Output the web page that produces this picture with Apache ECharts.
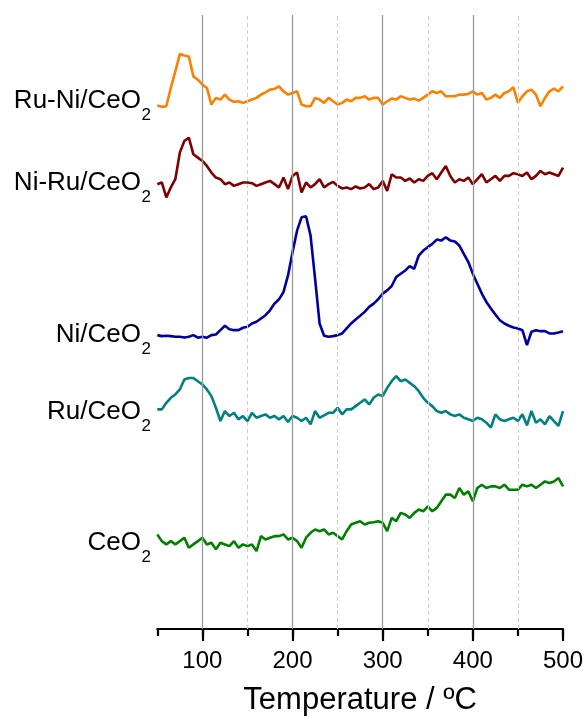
<!DOCTYPE html>
<html>
<head>
<meta charset="utf-8">
<script src="https://cdn.jsdelivr.net/npm/echarts@6/dist/echarts.min.js"></script>
<style>
  html, body { margin: 0; padding: 0; background: #fff; }
  #chart { width: 587px; height: 721px; }
</style>
</head>
<body>
<div id="chart"></div>
<script>
// temperature (ºC)
const temps = [50, 55, 60, 65, 70, 75, 80, 85, 90, 95, 100, 105, 110, 115, 120, 125, 130, 135, 140, 145,
  150, 155, 160, 165, 170, 175, 180, 185, 190, 195, 200, 205, 210, 215, 220, 225, 230, 235, 240, 245,
  250, 255, 260, 265, 270, 275, 280, 285, 290, 295, 300, 305, 310, 315, 320, 325, 330, 335, 340, 345,
  350, 355, 360, 365, 370, 375, 380, 385, 390, 395, 400, 405, 410, 415, 420, 425, 430, 435, 440, 445,
  450, 455, 460, 465, 470, 475, 480, 485, 490, 495, 500]

// signal (a.u., curves already offset)
const ruNi = [526, 524.7, 525.3, 543.7, 560.3, 577.7, 576.3, 575.3, 555.3, 552, 547, 543.7, 527, 533.7, 532, 537, 532, 529.7, 530.3, 528.7,
  530.3, 532, 533.7, 537, 539.3, 542, 542.7, 545.3, 540.3, 537, 538.7, 540.3, 527, 525.3, 525.3, 533.7, 532, 528.7, 533.7, 530.3,
  527, 528.7, 532, 530.3, 533.7, 533.7, 535.3, 532, 533.7, 533.7, 527, 530.3, 533, 532, 535.3, 533.7, 532, 533, 531, 533.7,
  537, 540.3, 538.7, 540.3, 535.3, 535.3, 535.3, 537, 537, 537.7, 540.3, 537, 538.7, 532, 533.7, 537, 533.7, 538.7, 540.3, 544.3,
  528.7, 535.3, 540.3, 542, 537, 525.3, 533.7, 540.3, 543, 540.3, 545.3]

const niRu = [447, 448.7, 433.7, 443.7, 452, 478.7, 490.3, 493.7, 477, 473.7, 470.3, 465.3, 458.7, 453.7, 452, 447, 448.7, 445.3, 447, 448.7,
  448.7, 448, 445.3, 447, 448.7, 450.3, 447, 443.7, 453.7, 442, 455.3, 458.7, 438.7, 448.7, 443.7, 447, 452, 443.7, 447, 449.3,
  445.3, 442.7, 443.7, 442, 444.7, 442.7, 443.7, 447, 442, 443.7, 450.3, 440.3, 457, 453.7, 453.7, 450.3, 452.7, 448.7, 452, 450.3,
  455.3, 458, 452, 458.7, 465.3, 455.3, 448.7, 452, 450.3, 453.7, 447, 452, 457, 448.7, 452, 455.3, 450.3, 455.3, 455.3, 458,
  457, 455.3, 458.7, 452, 455.3, 460.3, 457, 458.7, 457, 455.3, 463.7]

const ni = [295.3, 294.3, 294.7, 294.3, 293.7, 293.7, 293, 293.7, 295.3, 292.7, 293.7, 292.7, 295.3, 296, 300.3, 304.7, 301.3, 300.3, 300.3, 302.7,
  303.7, 307, 308.7, 312, 315.3, 320.3, 327, 331.3, 338.7, 355.3, 378.7, 400.3, 413.7, 414.7, 395.3, 352, 307, 294.7, 293.7, 294.3,
  295.3, 297, 302, 307, 311, 314.7, 318.7, 323.7, 327, 331.3, 337, 340.3, 344.7, 353.7, 357, 360.3, 364.7, 362, 375.3, 380.3,
  383.7, 387, 391.3, 390.3, 393.7, 390.3, 389.3, 385.3, 377, 368.7, 357, 347, 337, 328.7, 322, 316, 310.3, 307, 304.7, 303,
  302, 300.3, 285.3, 298.7, 300.3, 299.3, 299.3, 297, 297, 298, 299.3]

const ru = [220.7, 220.7, 227.3, 232.3, 235.7, 240.7, 250.7, 252.3, 252.3, 249, 245.7, 240.7, 234, 222.3, 209, 219, 214, 217.3, 210.7, 214,
  209, 217.3, 212.3, 214, 215.7, 212.3, 214, 210.7, 214, 208, 214, 212.3, 209, 212.3, 205.7, 219, 212.3, 214.7, 217.3, 217.3,
  222.3, 215.7, 220.7, 220.7, 224, 227.3, 230.7, 225.7, 232.3, 235.7, 234, 242.3, 249, 254, 249, 250.7, 247.3, 244, 239, 232.3,
  227.3, 224, 219, 217.3, 219, 215.7, 214, 215.7, 212.3, 210.7, 209, 212.3, 210.7, 207.3, 202.3, 215.7, 210.7, 209, 210.7, 212.3,
  209, 215.7, 204.7, 219, 207.3, 210.7, 205.7, 214, 209, 204, 219]

const ceo2 = [95, 88.3, 85, 88.3, 85, 88.3, 91.7, 81.7, 85, 88.3, 91.7, 85, 86.7, 80, 86.7, 85, 83.3, 88.3, 81.7, 85,
  83.3, 85, 78.3, 93.3, 90, 91.7, 93.3, 93.3, 95, 90, 91.7, 88.3, 81.7, 91.7, 96.7, 100, 98.3, 100, 95, 96.7,
  93.3, 90, 98.3, 105, 106.7, 108.3, 105, 106.7, 107.3, 108.3, 106.7, 98.3, 111.7, 108.3, 116.7, 115, 111.7, 116.7, 120, 118.3,
  123.3, 118.3, 121.7, 128.3, 135, 135, 131.7, 141.7, 135, 138.3, 128.3, 141.7, 145, 141.7, 143.3, 143.3, 141.7, 145, 140, 140,
  140, 145, 143.3, 145, 141.7, 145, 148.3, 146.7, 148.3, 151.7, 143.3]

const names = ['Ru-Ni/CeO', 'Ni-Ru/CeO', 'Ni/CeO', 'Ru/CeO', 'CeO']
const colors = ['#FF8000', '#800000', '#0000A0', '#008080', '#008000']
const majorLines = [100, 200, 300, 400]
const minorLines = [150, 250, 350, 450]
const tickLabels = [100, 200, 300, 400, 500]

const FONT = '"Liberation Sans", Arial, sans-serif'
const chart = echarts.init(document.getElementById('chart'))

const curves = [ruNi, niRu, ni, ru, ceo2]
const series = curves.map((vals, i) => ({
  type: 'line',
  name: names[i] + '2',
  data: temps.map((t, j) => [t, vals[j]]),
  showSymbol: false,
  symbol: 'none',
  z: 3,
  lineStyle: { color: colors[i], width: 2.6 },
  animation: false
}))

// grid lines
series.push({
  type: 'line',
  data: [],
  z: 1,
  silent: true,
  animation: false,
  markLine: {
    silent: true,
    symbol: 'none',
    animation: false,
    label: { show: false },
    data: majorLines.map(v => ({ xAxis: v, lineStyle: { color: '#9a9a9a', width: 1.3, type: 'solid' } }))
      .concat(minorLines.map(v => ({ xAxis: v, lineStyle: { color: '#cfcfcf', width: 1, type: [4, 3] } })))
  }
})

const labelY = [101, 183, 335, 412, 543]
const graphic = []
names.forEach((n, i) => {
  graphic.push({
    type: 'text', x: 141, y: labelY[i],
    style: { text: n, font: '26px ' + FONT, fill: '#000', align: 'right', verticalAlign: 'middle' }
  })
  graphic.push({
    type: 'text', x: 141.5, y: labelY[i] + 14,
    style: { text: '2', font: '17px ' + FONT, fill: '#000', align: 'left', verticalAlign: 'middle' }
  })
})

const option = {
  backgroundColor: '#fff',
  animation: false,
  grid: { left: 157.3, right: 24, top: 15, bottom: 89 },
  xAxis: [
    {
      type: 'value',
      min: 50,
      max: 500,
      interval: 50,
      name: 'Temperature / ºC',
      nameLocation: 'middle',
      nameGap: 56,
      nameTextStyle: { fontSize: 31, color: '#000', fontFamily: FONT },
      axisLine: { show: true, lineStyle: { color: '#000', width: 2.2 } },
      axisTick: { show: true, inside: false, length: 7, lineStyle: { color: '#000', width: 2.2 } },
      axisLabel: {
        show: true,
        margin: 20,
        customValues: tickLabels,
        fontSize: 24,
        color: '#000',
        fontFamily: FONT
      },
      splitLine: { show: false }
    },
    {
      type: 'value',
      min: 50,
      max: 500,
      interval: 50,
      position: 'bottom',
      axisLine: { show: false },
      axisTick: { show: true, length: 12, customValues: tickLabels, lineStyle: { color: '#000', width: 2.2 } },
      axisLabel: { show: false },
      splitLine: { show: false }
    }
  ],
  yAxis: {
    type: 'value',
    min: 0,
    max: 617,
    show: false,
    splitLine: { show: false }
  },
  series: series,
  graphic: graphic
}

chart.setOption(option)
</script>
</body>
</html>
